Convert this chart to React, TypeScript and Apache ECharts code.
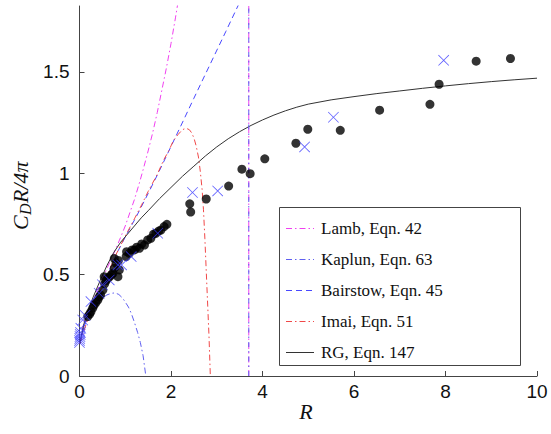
import React, { useEffect, useRef } from 'react';
import * as echarts from 'echarts';

// Axis ticks
const xTicks = [0, 2, 4, 6, 8, 10];
const yTicks = [0, 0.5, 1, 1.5];
const yMax = 1.825;

// Pole (vertical asymptote) shared by Lamb and Kaplun curves
const poleR = 3.7;

// Theory curves (R, C_D R / 4pi)
const lamb: [number, number][] = [
  [0.01, 0.16], [0.1, 0.27], [0.2, 0.32], [0.3, 0.375], [0.4, 0.43], [0.5, 0.48],
  [0.6, 0.53], [0.7, 0.58], [0.8, 0.63], [0.9, 0.685], [1.0, 0.74], [1.1, 0.805],
  [1.2, 0.87], [1.3, 0.945], [1.4, 1.025], [1.5, 1.11], [1.6, 1.2], [1.7, 1.3],
  [1.8, 1.41], [1.9, 1.52], [2.0, 1.64], [2.1, 1.77], [2.15, 1.84],
];
const kaplun: [number, number][] = [
  [0.01, 0.16], [0.1, 0.245], [0.2, 0.29], [0.3, 0.33], [0.4, 0.36], [0.5, 0.385],
  [0.6, 0.4], [0.7, 0.408], [0.78, 0.41], [0.86, 0.402], [0.94, 0.385], [1.0, 0.365],
  [1.07, 0.34], [1.13, 0.31], [1.2, 0.265], [1.27, 0.215], [1.33, 0.165], [1.39, 0.1],
  [1.45, 0.0],
];
const bairstow: [number, number][] = [
  [0.01, 0.16], [0.1, 0.25], [0.2, 0.31], [0.35, 0.385], [0.5, 0.45], [0.7, 0.545],
  [0.85, 0.62], [1.0, 0.685], [1.26, 0.794], [1.5, 0.9], [1.72, 1.0], [2.0, 1.132],
  [2.27, 1.26], [2.5, 1.37], [2.85, 1.535], [3.2, 1.7], [3.5, 1.843],
];
const imai: [number, number][] = [
  [0.01, 0.16], [0.15, 0.26], [0.3, 0.34], [0.5, 0.445], [0.65, 0.52], [0.8, 0.6],
  [1.0, 0.69], [1.2, 0.775], [1.36, 0.845], [1.5, 0.91], [1.7, 0.995], [1.85, 1.07],
  [1.95, 1.11], [2.05, 1.16], [2.15, 1.19], [2.25, 1.215], [2.33, 1.222], [2.4, 1.215],
  [2.45, 1.2], [2.5, 1.175], [2.55, 1.135], [2.6, 1.08], [2.64, 1.01], [2.68, 0.92],
  [2.71, 0.82], [2.74, 0.68], [2.77, 0.52], [2.8, 0.36], [2.83, 0.2], [2.86, 0.0],
];
const rg: [number, number][] = [
  [0.01, 0.16], [0.05, 0.21], [0.1, 0.26], [0.2, 0.33], [0.3, 0.39], [0.45, 0.47],
  [0.6, 0.545], [0.75, 0.61], [0.9, 0.66], [1.05, 0.7], [1.2, 0.74], [1.35, 0.78],
  [1.5, 0.815], [1.75, 0.875], [2.0, 0.93], [2.25, 0.985], [2.5, 1.035], [2.75, 1.085],
  [3.0, 1.13], [3.25, 1.17], [3.5, 1.205], [3.75, 1.236], [4.0, 1.263], [4.25, 1.287],
  [4.5, 1.308], [4.75, 1.326], [5.0, 1.341], [5.5, 1.362], [6.0, 1.378], [6.5, 1.393],
  [7.0, 1.406], [7.5, 1.419], [8.0, 1.431], [8.5, 1.442], [9.0, 1.452], [9.5, 1.461],
  [10.0, 1.469],
];

// Measurements: black dots
const dots: [number, number][] = [
  [0.18, 0.293], [0.22, 0.305], [0.25, 0.317], [0.29, 0.335], [0.32, 0.35], [0.36, 0.362],
  [0.4, 0.375], [0.43, 0.39], [0.46, 0.4], [0.51, 0.424], [0.54, 0.49], [0.55, 0.455],
  [0.58, 0.47], [0.62, 0.482], [0.66, 0.49], [0.7, 0.5], [0.73, 0.507], [0.76, 0.531],
  [0.8, 0.556], [0.76, 0.58], [0.84, 0.49], [0.87, 0.523], [0.85, 0.57], [1.02, 0.589],
  [1.03, 0.613], [1.09, 0.605], [1.15, 0.622], [1.2, 0.622], [1.25, 0.635], [1.31, 0.63],
  [1.36, 0.651], [1.42, 0.646], [1.49, 0.671], [1.56, 0.679], [1.62, 0.7], [1.67, 0.704],
  [1.73, 0.715], [1.78, 0.72], [1.85, 0.737], [1.91, 0.748],
  [2.41, 0.849], [2.43, 0.809], [2.77, 0.873], [3.26, 0.937], [3.55, 1.02], [3.73, 0.998],
  [4.05, 1.071], [4.73, 1.148], [4.99, 1.217], [5.7, 1.212], [6.56, 1.311], [7.66, 1.34],
  [7.86, 1.439], [8.67, 1.553], [9.42, 1.566],
];

// Measurements: blue crosses
const crosses: [number, number][] = [
  [0.0, 0.165], [0.0, 0.175], [0.005, 0.185], [0.01, 0.195], [0.015, 0.205], [0.02, 0.215],
  [0.03, 0.235], [0.07, 0.276], [0.12, 0.3], [0.25, 0.367], [0.43, 0.408], [0.5, 0.45],
  [0.65, 0.474], [0.84, 0.548], [0.92, 0.548], [1.13, 0.589], [1.71, 0.704], [2.47, 0.905],
  [3.02, 0.913], [4.92, 1.13], [5.55, 1.276], [7.96, 1.557],
];

const legendLabels = ['Lamb, Eqn. 42', 'Kaplun, Eqn. 63', 'Bairstow, Eqn. 45', 'Imai, Eqn. 51', 'RG, Eqn. 147'];

const COLORS = {
  lamb: '#f040f0',
  kaplun: '#6060f0',
  bairstow: '#4848ff',
  imai: '#f04848',
  rg: '#333333',
};
const DASHDOT = [6, 3, 1.5, 3];
const DASHED = [6, 4];
const legendStyles = [
  { color: COLORS.lamb, dash: DASHDOT },
  { color: COLORS.kaplun, dash: DASHDOT },
  { color: COLORS.bairstow, dash: DASHED },
  { color: COLORS.imai, dash: DASHDOT },
  { color: COLORS.rg, dash: null as number[] | null },
];

const CROSS = 'path://M0,1L1,0L10,9L19,0L20,1L11,10L20,19L19,20L10,11L1,20L0,19L9,10Z';

export default function App() {
  const ref = useRef<HTMLDivElement>(null);
  useEffect(() => {
    if (!ref.current) return;
    const chart = echarts.init(ref.current, null, { renderer: 'svg' });

    const lineSeries = (data: any[], color: string, dash: number[] | null) => ({
      type: 'line',
      data,
      showSymbol: false,
      symbol: 'none',
      smooth: false,
      clip: true,
      silent: true,
      lineStyle: { color, width: 1, type: dash ? dash : 'solid' },
      emphasis: { disabled: true },
      z: 2,
    });

    const legendItems: any[] = [
      {
        type: 'rect',
        shape: { x: 279.5, y: 207.5, width: 241, height: 158 },
        style: { fill: '#fff', stroke: '#444', lineWidth: 1 },
        z: 10,
      },
    ];
    legendLabels.forEach((label, i) => {
      const y = 228 + i * 31;
      const st = legendStyles[i];
      legendItems.push({
        type: 'line',
        shape: { x1: 286, y1: y + 0.5, x2: 314, y2: y + 0.5 },
        style: { stroke: st.color, lineWidth: 1, lineDash: st.dash || undefined },
        z: 11,
      });
      legendItems.push({
        type: 'text',
        x: 321,
        y,
        style: {
          text: label,
          font: '17px "Liberation Serif"',
          fill: '#111',
          textAlign: 'left',
          textVerticalAlign: 'middle',
        },
        z: 11,
      });
    });

    const ital = (t: string, x: number, y: number, size: number) => ({
      type: 'text',
      x,
      y,
      style: {
        text: t,
        font: `italic ${size}px "Liberation Serif"`,
        fill: '#111',
        textAlign: 'left',
        textVerticalAlign: 'middle',
      },
    });

    chart.setOption({
      animation: false,
      grid: { left: 79.5, right: 14, top: 6, bottom: 58, containLabel: false },
      xAxis: {
        type: 'value',
        min: xTicks[0],
        max: xTicks[xTicks.length - 1],
        interval: 2,
        axisLine: { show: true, lineStyle: { color: '#444', width: 1 } },
        axisTick: { show: true, inside: true, length: 5, lineStyle: { color: '#444' } },
        axisLabel: { fontFamily: '"Liberation Sans"', fontSize: 19, color: '#111', margin: 6 },
        splitLine: { show: false },
      },
      yAxis: {
        type: 'value',
        min: 0,
        max: yMax,
        interval: 0.5,
        axisLine: { show: true, lineStyle: { color: '#444', width: 1 } },
        axisTick: { show: true, inside: true, length: 5, lineStyle: { color: '#444' }, customValues: yTicks },
        axisLabel: { fontFamily: '"Liberation Sans"', fontSize: 19, color: '#111', margin: 10, customValues: yTicks },
        splitLine: { show: false },
      },
      series: [
        lineSeries(lamb, COLORS.lamb, DASHDOT),
        lineSeries(kaplun, COLORS.kaplun, DASHDOT),
        lineSeries(bairstow, COLORS.bairstow, DASHED),
        lineSeries(imai, COLORS.imai, DASHDOT),
        lineSeries(rg, COLORS.rg, null),
        lineSeries([[poleR, 0], [poleR, yMax]], COLORS.lamb, DASHDOT),
        lineSeries([[poleR, 0], [poleR, yMax]], COLORS.kaplun, [5, 4, 1.5, 4]),
        {
          type: 'scatter',
          data: dots,
          symbol: 'circle',
          symbolSize: 9,
          itemStyle: { color: '#000' },
          silent: true,
          z: 3,
        },
        {
          type: 'scatter',
          data: crosses,
          symbol: CROSS,
          symbolSize: 11,
          itemStyle: { color: '#3a3aff' },
          silent: true,
          z: 4,
        },
      ],
      graphic: [
        ...legendItems,
        {
          type: 'group',
          x: 20,
          y: 188,
          rotation: Math.PI / 2,
          children: [
            ital('C', -42, 0, 22),
            ital('D', -27, 5, 16),
            ital('R/4π', -15, 0, 22),
          ],
        },
        {
          type: 'text',
          x: 306,
          y: 411,
          style: {
            text: 'R',
            font: 'italic 22px "Liberation Serif"',
            fill: '#111',
            textAlign: 'center',
            textVerticalAlign: 'middle',
          },
        },
      ],
    });
    return () => chart.dispose();
  }, []);
  return (
    <div
      ref={ref}
      style={{ position: 'fixed', left: 0, top: 0, width: 551, height: 434, background: '#fff' }}
    />
  );
}
